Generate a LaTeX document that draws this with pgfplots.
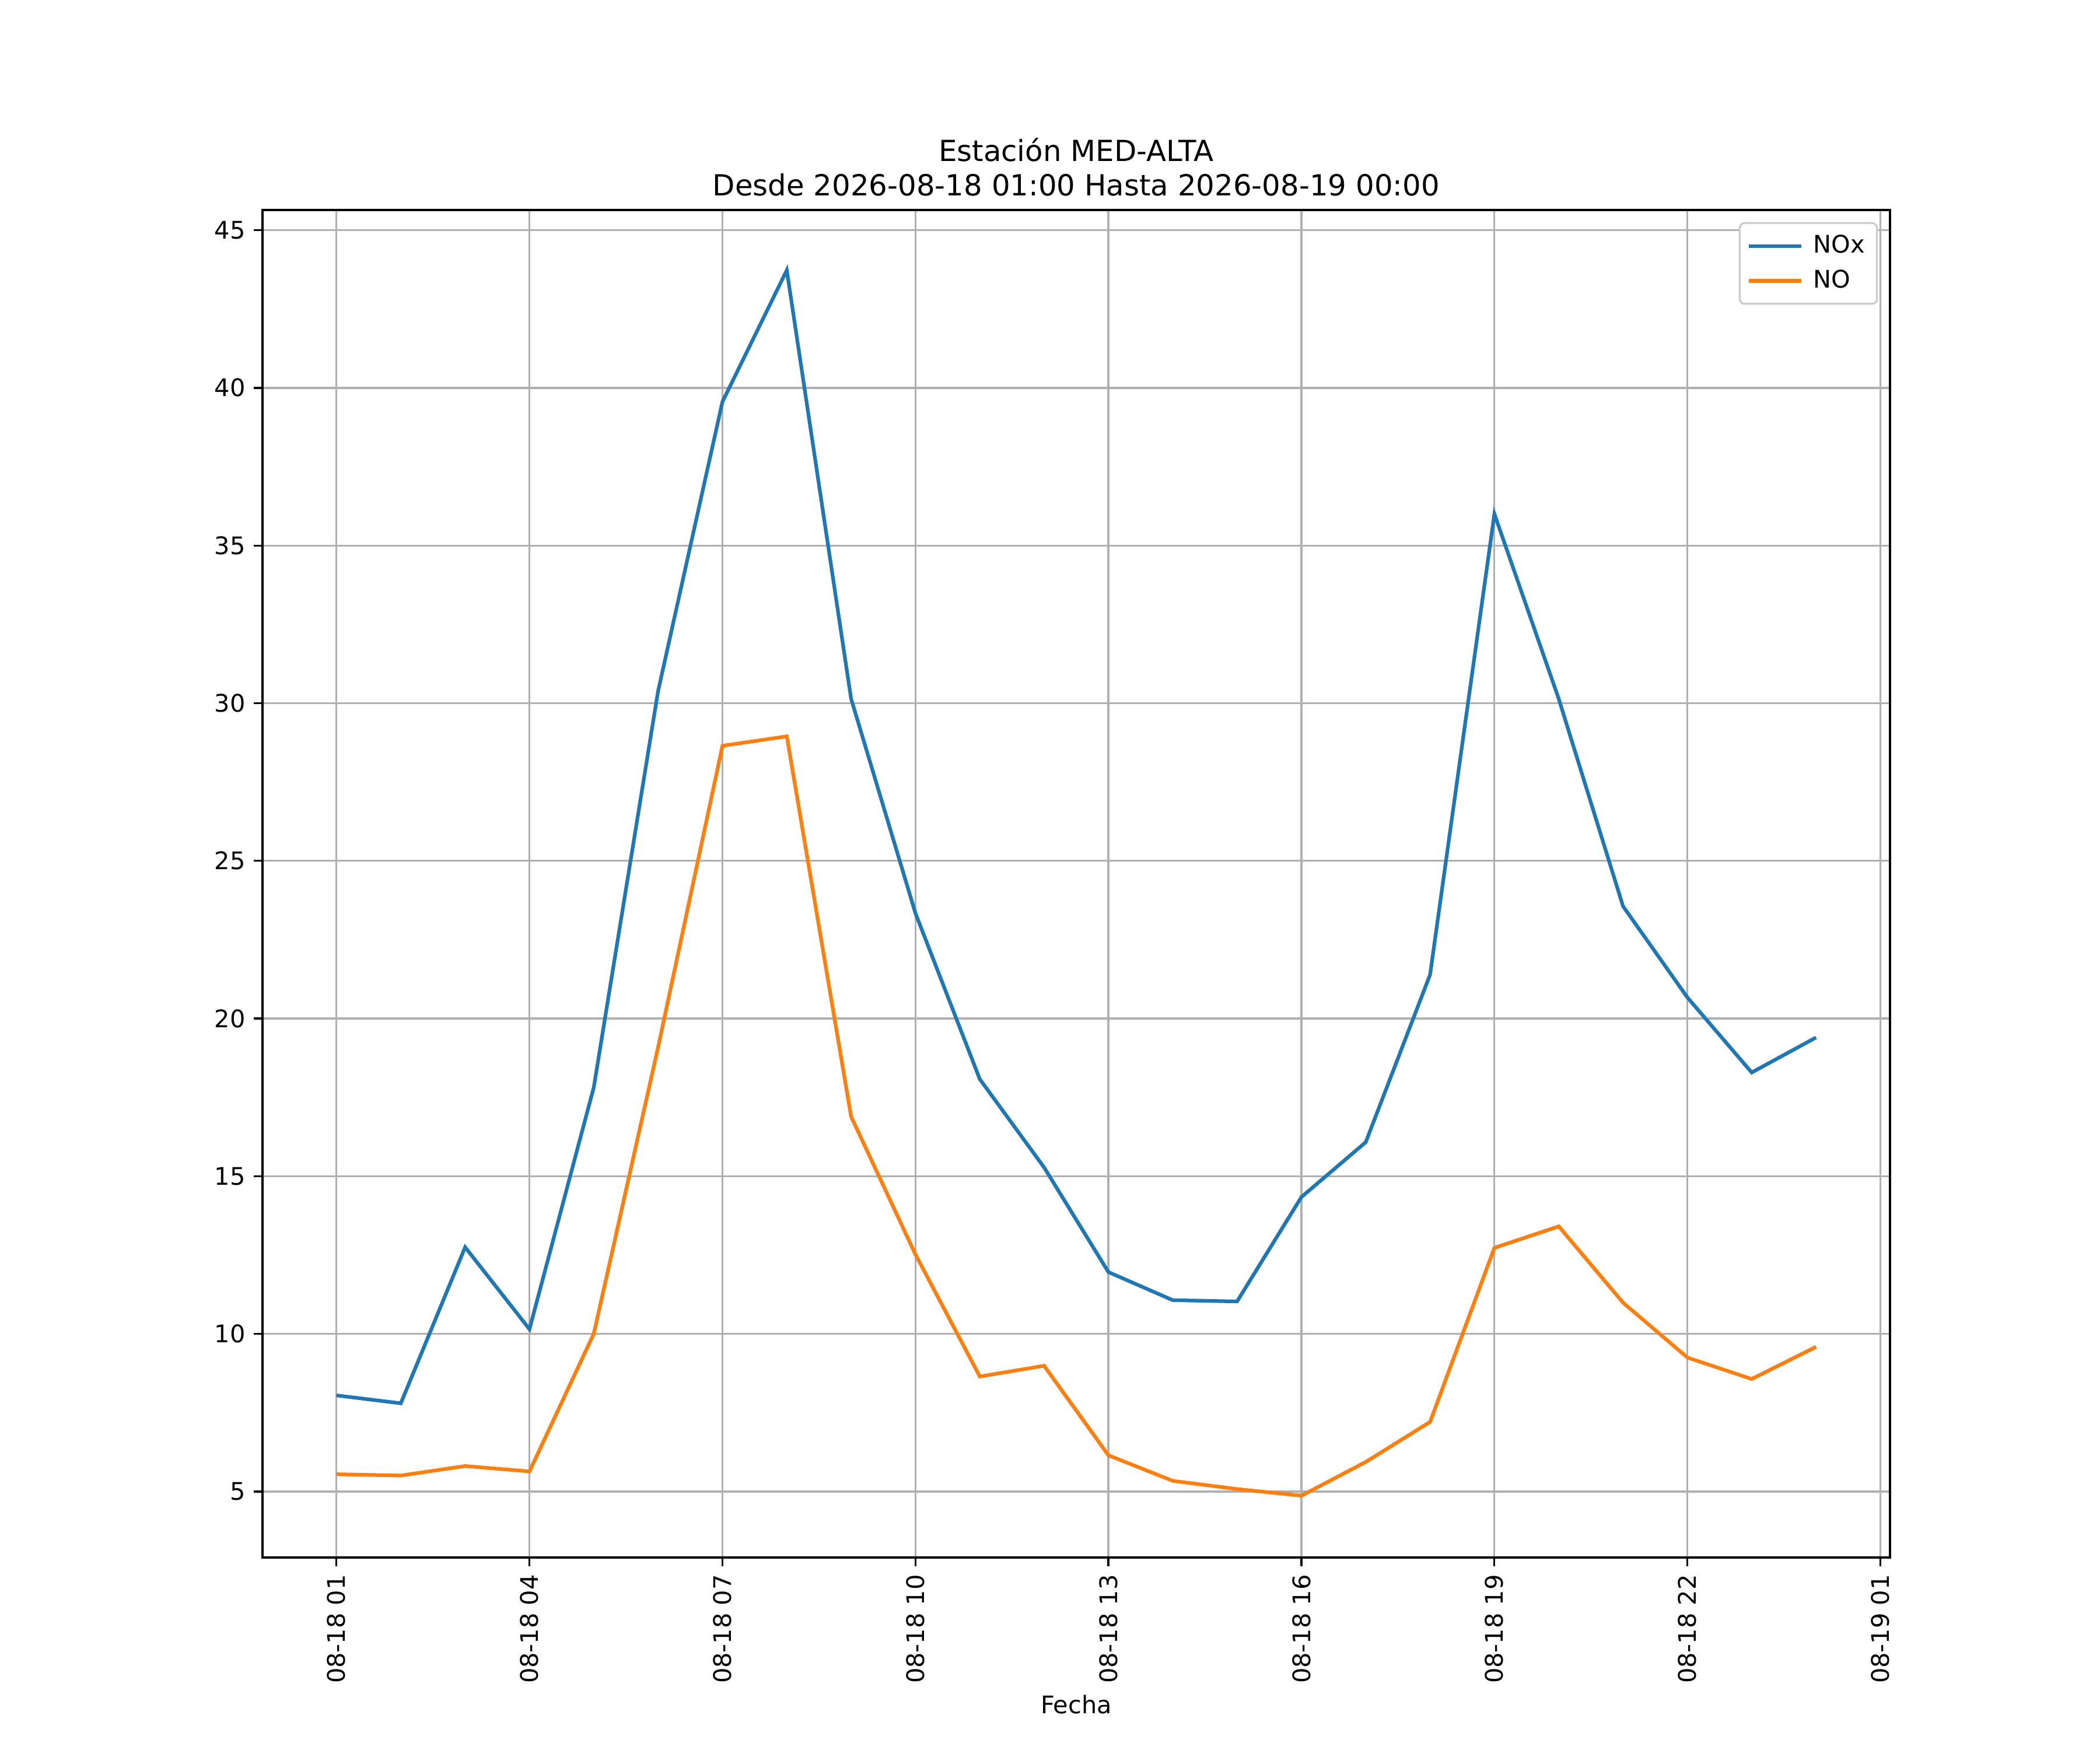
\documentclass[border=0pt]{standalone}
\usepackage{fontspec}
\setmainfont{DejaVu Sans}
\usepackage{pgfplots}
\pgfplotsset{compat=1.18}
\definecolor{c0}{HTML}{1F77B4}
\definecolor{c1}{HTML}{FF7F0E}
\definecolor{gridc}{HTML}{B0B0B0}
\begin{document}
\begin{tikzpicture}
\path[use as bounding box] (-1.5in,-1.1in) rectangle (10.5in,8.9in);
\begin{axis}[
  at={(0,0)}, anchor=south west,
  scale only axis, width=9.3in, height=7.7in,
  xmin=-0.15, xmax=25.15, ymin=2.91, ymax=45.64,
  xtick={1,4,7,10,13,16,19,22,25},
  xticklabels={08-18 01,08-18 04,08-18 07,08-18 10,08-18 13,08-18 16,08-18 19,08-18 22,08-19 01},
  ytick={5,10,15,20,25,30,35,40,45},
  xticklabel style={rotate=90, anchor=east},
  tick label style={font=\fontsize{10}{12}\selectfont},
  /pgf/number format/assume math mode=true,
  tick align=outside, xtick pos=left, ytick pos=left,
  major tick length=3.5pt,
  every tick/.style={black, line width=0.8pt},
  axis line style={line width=0.8pt},
  grid=major, major grid style={gridc, line width=0.8pt},
  xlabel={Fecha}, xlabel style={font=\fontsize{10}{12}\selectfont, yshift=2pt},
  title={Estación MED-ALTA\\Desde 2026-08-18 01:00 Hasta 2026-08-19 00:00},
  title style={align=center, font=\fontsize{12}{14}\selectfont, yshift=-3.7pt},
  legend style={at={(1,1)}, anchor=north east, xshift=-5pt, yshift=-5pt,
    draw=black!20, line width=0.8pt, rounded corners=2pt, font=\fontsize{10}{12}\selectfont,
    cells={anchor=west}, row sep=1.5pt, column sep=2.3pt, inner xsep=3pt, inner ysep=3pt},
  legend image code/.code={\draw[#1] (0pt,0pt) -- (21.6pt,0pt);},
]
\addplot[c0, line width=1.5pt] coordinates {
(1,8.05)(2,7.8)(3,12.75)(4,10.15)(5,17.82)(6,30.39)(7,39.56)(8,43.73)
(9,30.14)(10,23.34)(11,18.08)(12,15.28)(13,11.96)(14,11.07)(15,11.03)(16,14.34)
(17,16.08)(18,21.39)(19,36.0)(20,30.14)(21,23.56)(22,20.67)(23,18.29)(24,19.4)};
\addlegendentry{NOx}
\addplot[c1, line width=1.5pt] coordinates {
(1,5.55)(2,5.51)(3,5.81)(4,5.64)(5,10.01)(6,19.1)(7,28.65)(8,28.95)
(9,16.89)(10,12.52)(11,8.65)(12,8.99)(13,6.15)(14,5.34)(15,5.08)(16,4.87)
(17,5.94)(18,7.21)(19,12.73)(20,13.41)(21,10.99)(22,9.25)(23,8.57)(24,9.59)};
\addlegendentry{NO}
\end{axis}
\end{tikzpicture}
\end{document}
